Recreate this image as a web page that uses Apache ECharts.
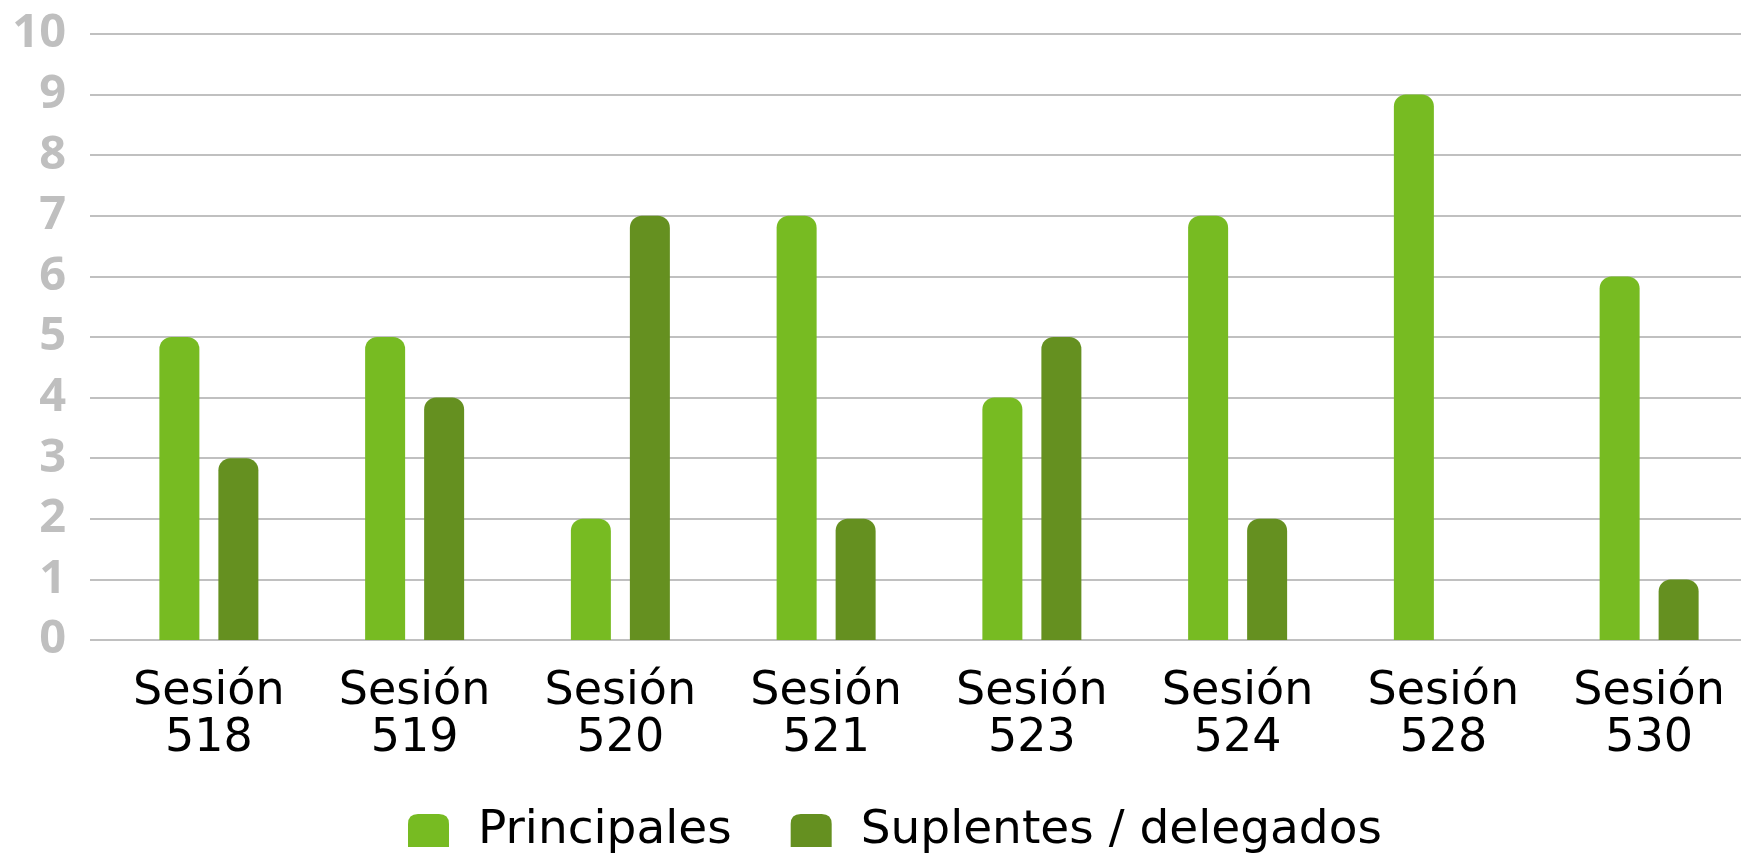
<!DOCTYPE html>
<html>
<head>
<meta charset="utf-8">
<script src="https://cdn.jsdelivr.net/npm/echarts@6/dist/echarts.min.js"></script>
<style>
html,body{margin:0;padding:0;background:#fff;overflow:hidden;width:1741px;height:855px;}
#chart{width:1752px;height:855px;}
</style>
</head>
<body>
<div id="chart"></div>
<script>
const categories = ['Sesión\n518','Sesión\n519','Sesión\n520','Sesión\n521','Sesión\n523','Sesión\n524','Sesión\n528','Sesión\n530'];
const principales = [5, 5, 2, 7, 4, 7, 9, 6];
const suplentes = [3, 4, 7, 2, 5, 2, 0, 1];
const seriesNames = ['Principales', 'Suplentes / delegados'];

const chart = echarts.init(document.getElementById('chart'));
const iconPath = 'path://M0,10 Q0,0 10,0 L31,0 Q41,0 41,10 L41,33 L0,33 Z';
chart.setOption({
  animation: false,
  backgroundColor: '#ffffff',
  grid: [
    {left: 90, top: 34, right: 0, height: 606},
    {left: 106, top: 34, right: 0, height: 606}
  ],
  legend: {
    left: 403, top: 802,
    itemWidth: 41, itemHeight: 33, itemGap: 59,
    icon: iconPath,
    textStyle: {fontFamily: 'DejaVu Sans', fontSize: 47, color: '#000', padding: [0, 0, 0, 24]},
    data: seriesNames
  },
  xAxis: [
    {gridIndex: 0, type: 'category', data: [''], show: false},
    {gridIndex: 1, type: 'category', data: categories,
     axisLine: {show: false}, axisTick: {show: false},
     axisLabel: {fontFamily: 'DejaVu Sans', fontSize: 46, lineHeight: 47, color: '#000', margin: 29, interval: 0}}
  ],
  yAxis: [
    {gridIndex: 0, type: 'value', min: 0, max: 10, interval: 1,
     axisLine: {show: false}, axisTick: {show: false},
     splitLine: {lineStyle: {color: '#C0C0C0', width: 2}},
     axisLabel: {fontFamily: 'Open Sans', fontWeight: 'bold', fontSize: 47, color: '#BFBFBF', margin: 24, padding: [0, 0, 10, 0]}},
    {gridIndex: 1, type: 'value', min: 0, max: 10, interval: 1, show: false, splitLine: {show: false}}
  ],
  series: [
    {name: seriesNames[0], type: 'bar', xAxisIndex: 1, yAxisIndex: 1, data: principales,
     barWidth: 40, barGap: '47.5%',
     itemStyle: {color: '#77BB22', borderRadius: [12, 12, 0, 0]}},
    {name: seriesNames[1], type: 'bar', xAxisIndex: 1, yAxisIndex: 1, data: suplentes,
     barWidth: 40, barGap: '47.5%',
     itemStyle: {color: '#659020', borderRadius: [12, 12, 0, 0]}}
  ]
});
</script>
</body>
</html>
